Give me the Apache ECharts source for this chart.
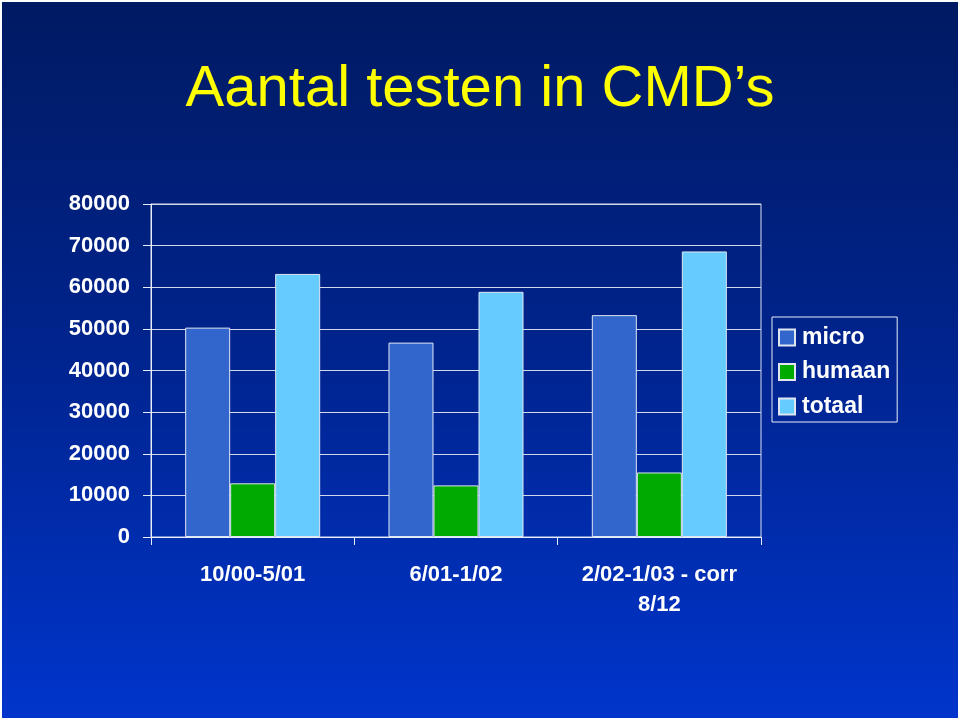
<!DOCTYPE html>
<html>
<head>
<meta charset="utf-8">
<script src="https://cdn.jsdelivr.net/npm/echarts@6/dist/echarts.min.js"></script>
<style>
html,body{margin:0;padding:0;background:#ffffff;}
#chart{position:absolute;left:2px;top:2px;width:956px;height:716px;}
</style>
</head>
<body>
<div id="chart"></div>
<script>
const categories = ['10/00-5/01', '6/01-1/02', '2/02-1/03 - corr\n8/12'];
const micro = [50300, 46700, 53300];
const humaan = [12900, 12400, 15500];
const totaal = [63200, 58900, 68600];
const seriesNames = ['micro', 'humaan', 'totaal'];
const yMin = 0, yMax = 80000, yStep = 10000;

const chart = echarts.init(document.getElementById('chart'), null, {renderer: 'canvas'});
const font = "'Liberation Sans', Arial, sans-serif";
const borderCol = '#dfe6f2';
const option = {
  backgroundColor: new echarts.graphic.LinearGradient(0, 0, 0, 1, [
    {offset: 0, color: '#001a62'},
    {offset: 0.5, color: '#00248f'},
    {offset: 1, color: '#0035cc'}
  ]),
  animation: false,
  title: {
    text: 'Aantal testen in CMD\u2019s',
    left: 'center',
    top: 54,
    textStyle: {color: '#ffff00', fontSize: 58, fontWeight: 'normal', fontFamily: font}
  },
  legend: {
    data: seriesNames,
    orient: 'vertical',
    left: 770,
    top: 315,
    padding: [9, 7, 4, 6],
    itemWidth: 16,
    itemHeight: 16,
    itemGap: 11.5,
    borderColor: '#e8eef8',
    borderWidth: 1,
    icon: 'rect',
    textStyle: {color: '#ffffff', fontSize: 23, fontWeight: 'bold', fontFamily: font, lineHeight: 23, padding: [0, 0, 0, 2]}
  },
  grid: {
    left: 149, right: 197, top: 202, bottom: 181,
    show: true, borderColor: '#d8e0ee', borderWidth: 1, backgroundColor: 'transparent'
  },
  xAxis: {
    type: 'category',
    data: categories,
    axisLine: {lineStyle: {color: '#e8eef8', width: 1}},
    axisTick: {show: true, alignWithLabel: false, length: 8, lineStyle: {color: '#e8eef8'}},
    axisLabel: {color: '#ffffff', fontSize: 22, fontWeight: 'bold', fontFamily: font, margin: 23, lineHeight: 30, interval: 0}
  },
  yAxis: {
    type: 'value',
    min: yMin, max: yMax, interval: yStep,
    axisLine: {show: true, lineStyle: {color: '#e8eef8', width: 1}},
    axisTick: {show: true, length: 8, lineStyle: {color: '#e8eef8'}},
    splitLine: {lineStyle: {color: '#d0d9ea', width: 1}},
    axisLabel: {color: '#ffffff', fontSize: 22, fontWeight: 'bold', fontFamily: font, margin: 21,
      formatter: function (v) { return String(v); }}
  },
  series: [
    {name: seriesNames[0], type: 'bar', data: micro, barGap: '0%', barCategoryGap: '33.6%',
     itemStyle: {color: '#3366cc', borderColor: borderCol, borderWidth: 1}},
    {name: seriesNames[1], type: 'bar', data: humaan,
     itemStyle: {color: '#00aa00', borderColor: borderCol, borderWidth: 1}},
    {name: seriesNames[2], type: 'bar', data: totaal,
     itemStyle: {color: '#66ccff', borderColor: borderCol, borderWidth: 1}}
  ]
};
chart.setOption(option);
</script>
</body>
</html>
